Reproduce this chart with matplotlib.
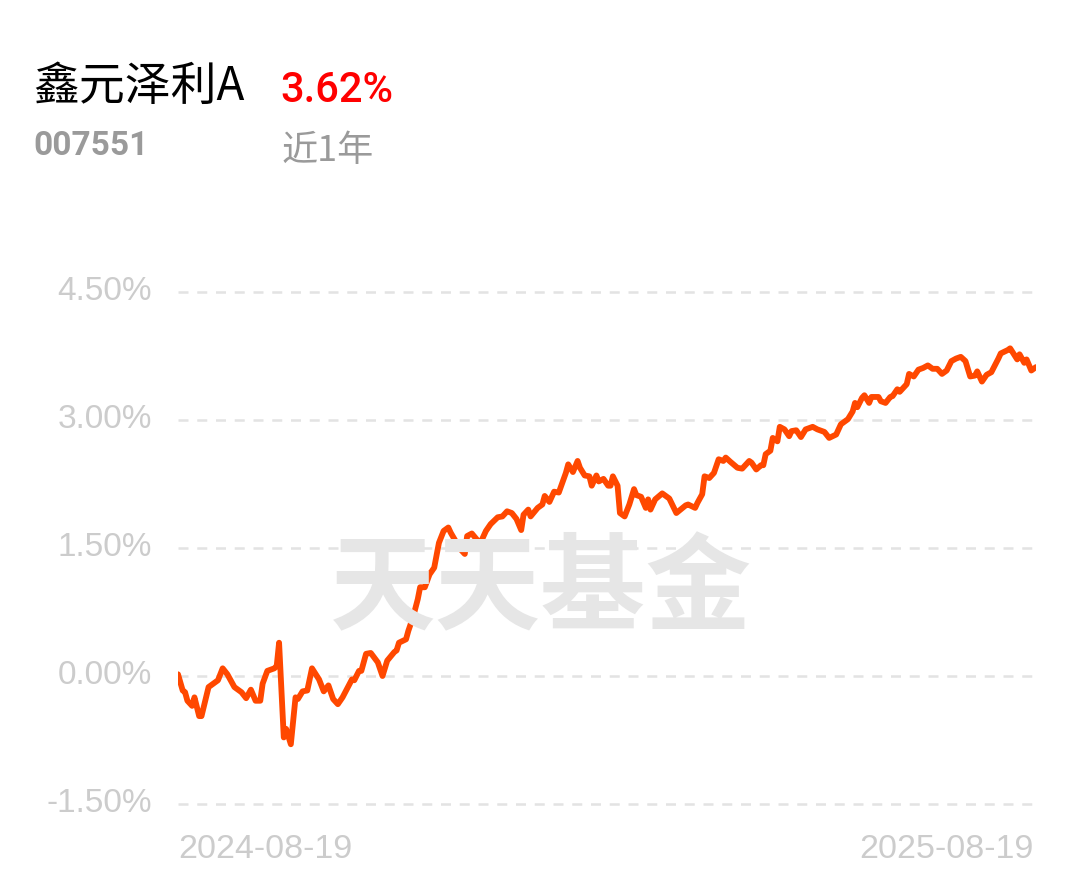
import matplotlib
matplotlib.use("Agg")
import matplotlib.pyplot as plt
import pandas as pd

# fund info
fund_name = "鑫元泽利A"
fund_code = "007551"
period_label = "近1年"
period_return = "3.62%"
start_date = "2024-08-19"
end_date = "2025-08-19"

# days since start date, cumulative return in %
days = [0, 2, 3, 4, 6, 7, 9, 10, 13, 14, 17, 19, 21, 24, 27, 29, 31, 33, 35, 36,
        38, 41, 42, 43, 45, 46, 48, 50, 51, 53, 55, 57, 60, 62, 64, 66, 68, 70, 74, 75,
        77, 78, 80, 82, 85, 87, 89, 92, 93, 94, 97, 98, 100, 102, 103, 105, 107, 109, 111, 113,
        115, 116, 120, 122, 123, 125, 128, 129, 131, 133, 136, 138, 140, 142, 144, 146, 147, 149, 150, 153,
        155, 156, 158, 160, 162, 165, 166, 168, 170, 171, 173, 175, 176, 178, 179, 181, 183, 184, 185, 187,
        188, 190, 192, 194, 195, 197, 199, 200, 201, 203, 206, 209, 212, 216, 217, 220, 221, 223, 224, 226,
        228, 230, 232, 233, 235, 238, 240, 243, 244, 246, 248, 249, 250, 252, 253, 255, 256, 258, 260, 261,
        263, 265, 267, 270, 272, 275, 277, 280, 282, 285, 287, 288, 289, 291, 292, 294, 295, 298, 299, 301,
        303, 304, 306, 307, 310, 311, 313, 315, 317, 319, 321, 323, 325, 327, 329, 331, 333, 335, 337, 339,
        340, 342, 344, 346, 349, 350, 353, 354, 357, 358, 360, 361, 363, 365]
returns = [0.02, -0.17, -0.19, -0.29, -0.35, -0.25, -0.47, -0.47, -0.13, -0.11, -0.05, 0.09, 0.02, -0.13, -0.19, -0.26, -0.16, -0.29, -0.29, -0.09,
           0.06, 0.09, 0.12, 0.39, -0.72, -0.62, -0.80, -0.25, -0.27, -0.18, -0.17, 0.09, -0.04, -0.18, -0.11, -0.27, -0.33, -0.25, -0.04, -0.05,
           0.06, 0.06, 0.26, 0.27, 0.16, 0.00, 0.18, 0.28, 0.30, 0.39, 0.43, 0.53, 0.69, 0.90, 1.04, 1.04, 1.19, 1.27, 1.56, 1.70,
           1.74, 1.68, 1.49, 1.43, 1.64, 1.67, 1.57, 1.58, 1.70, 1.78, 1.86, 1.87, 1.93, 1.91, 1.84, 1.71, 1.89, 1.95, 1.87, 1.97,
           2.01, 2.11, 2.04, 2.16, 2.15, 2.38, 2.48, 2.39, 2.52, 2.44, 2.35, 2.34, 2.23, 2.35, 2.28, 2.31, 2.23, 2.23, 2.34, 2.23,
           1.91, 1.87, 2.01, 2.19, 2.12, 2.10, 1.97, 2.07, 1.95, 2.07, 2.14, 2.08, 1.91, 2.00, 2.01, 1.97, 2.03, 2.13, 2.34, 2.32,
           2.38, 2.54, 2.52, 2.56, 2.51, 2.44, 2.43, 2.52, 2.50, 2.42, 2.47, 2.47, 2.60, 2.64, 2.79, 2.75, 2.92, 2.89, 2.81, 2.87,
           2.88, 2.80, 2.89, 2.92, 2.89, 2.86, 2.79, 2.83, 2.95, 3.01, 3.10, 3.20, 3.15, 3.26, 3.29, 3.20, 3.27, 3.27, 3.22, 3.20,
           3.27, 3.28, 3.36, 3.33, 3.42, 3.54, 3.51, 3.59, 3.61, 3.64, 3.60, 3.60, 3.54, 3.58, 3.69, 3.72, 3.74, 3.69, 3.51, 3.52,
           3.57, 3.45, 3.53, 3.56, 3.72, 3.78, 3.82, 3.84, 3.71, 3.77, 3.67, 3.71, 3.58, 3.62]

yticks = [-1.5, 0.0, 1.5, 3.0, 4.5]

dates = pd.to_datetime(start_date) + pd.to_timedelta(days, unit="D")
span = (pd.to_datetime(end_date) - pd.to_datetime(start_date)).days

cjk = ["Noto Sans CJK SC", "DejaVu Sans"]
num_font = "Liberation Sans"

W, H = 1080, 881
fig = plt.figure(figsize=(W / 100, H / 100), dpi=100)
fig.patch.set_facecolor("white")

ax = fig.add_axes([178 / W, 1 - 804 / H, 858 / W, 512 / H])
ax.set_facecolor("none")

# watermark
fig.text(541 / W, 1 - 591 / H, "天天基金", fontsize=76, fontweight="bold",
         family=cjk, color="#e6e6e6", ha="center", va="center", zorder=0)

# dashed grid + tick labels
for t in yticks:
    ax.axhline(t, color="#e3e3e3", lw=1.8, ls=(0, (4, 3.5)), clip_on=False, zorder=1)
    ax.text(-26 / 858, t, f"{t:.2f}%", transform=ax.get_yaxis_transform(), ha="right", va="center",
            fontsize=24, family=num_font, color="#cccccc", clip_on=False)

x = [(d - dates[0]).days for d in dates]
ax.plot(x, returns, color="#ff4800", lw=4.2, solid_joinstyle="round", solid_capstyle="round", zorder=3)

ax.set_xlim(0, span)
ax.set_ylim(-1.5, 4.5)
ax.axis("off")

fig.text(178 / W, 1 - 849 / H, start_date, fontsize=24.5, family=num_font, color="#cccccc",
         ha="left", va="center")
fig.text(1034 / W, 1 - 849 / H, end_date, fontsize=24.5, family=num_font, color="#cccccc",
         ha="right", va="center")

# header
fig.text(33 / W, 1 - 87 / H, fund_name, fontsize=33, family=cjk, color="black", ha="left", va="center")
fig.text(280 / W, 1 - 91 / H, period_return, fontsize=30, family="Roboto", fontweight="medium",
         color="#ff0000", ha="left", va="center")
fig.text(33 / W, 1 - 146 / H, fund_code, fontsize=24, family="Roboto", fontweight="bold",
         color="#9a9a9a", ha="left", va="center")
fig.text(282 / W, 1 - 151 / H, period_label, fontsize=26, family=cjk, color="#9a9a9a",
         ha="left", va="center")

fig.savefig("out.png", dpi=100, facecolor="white")
